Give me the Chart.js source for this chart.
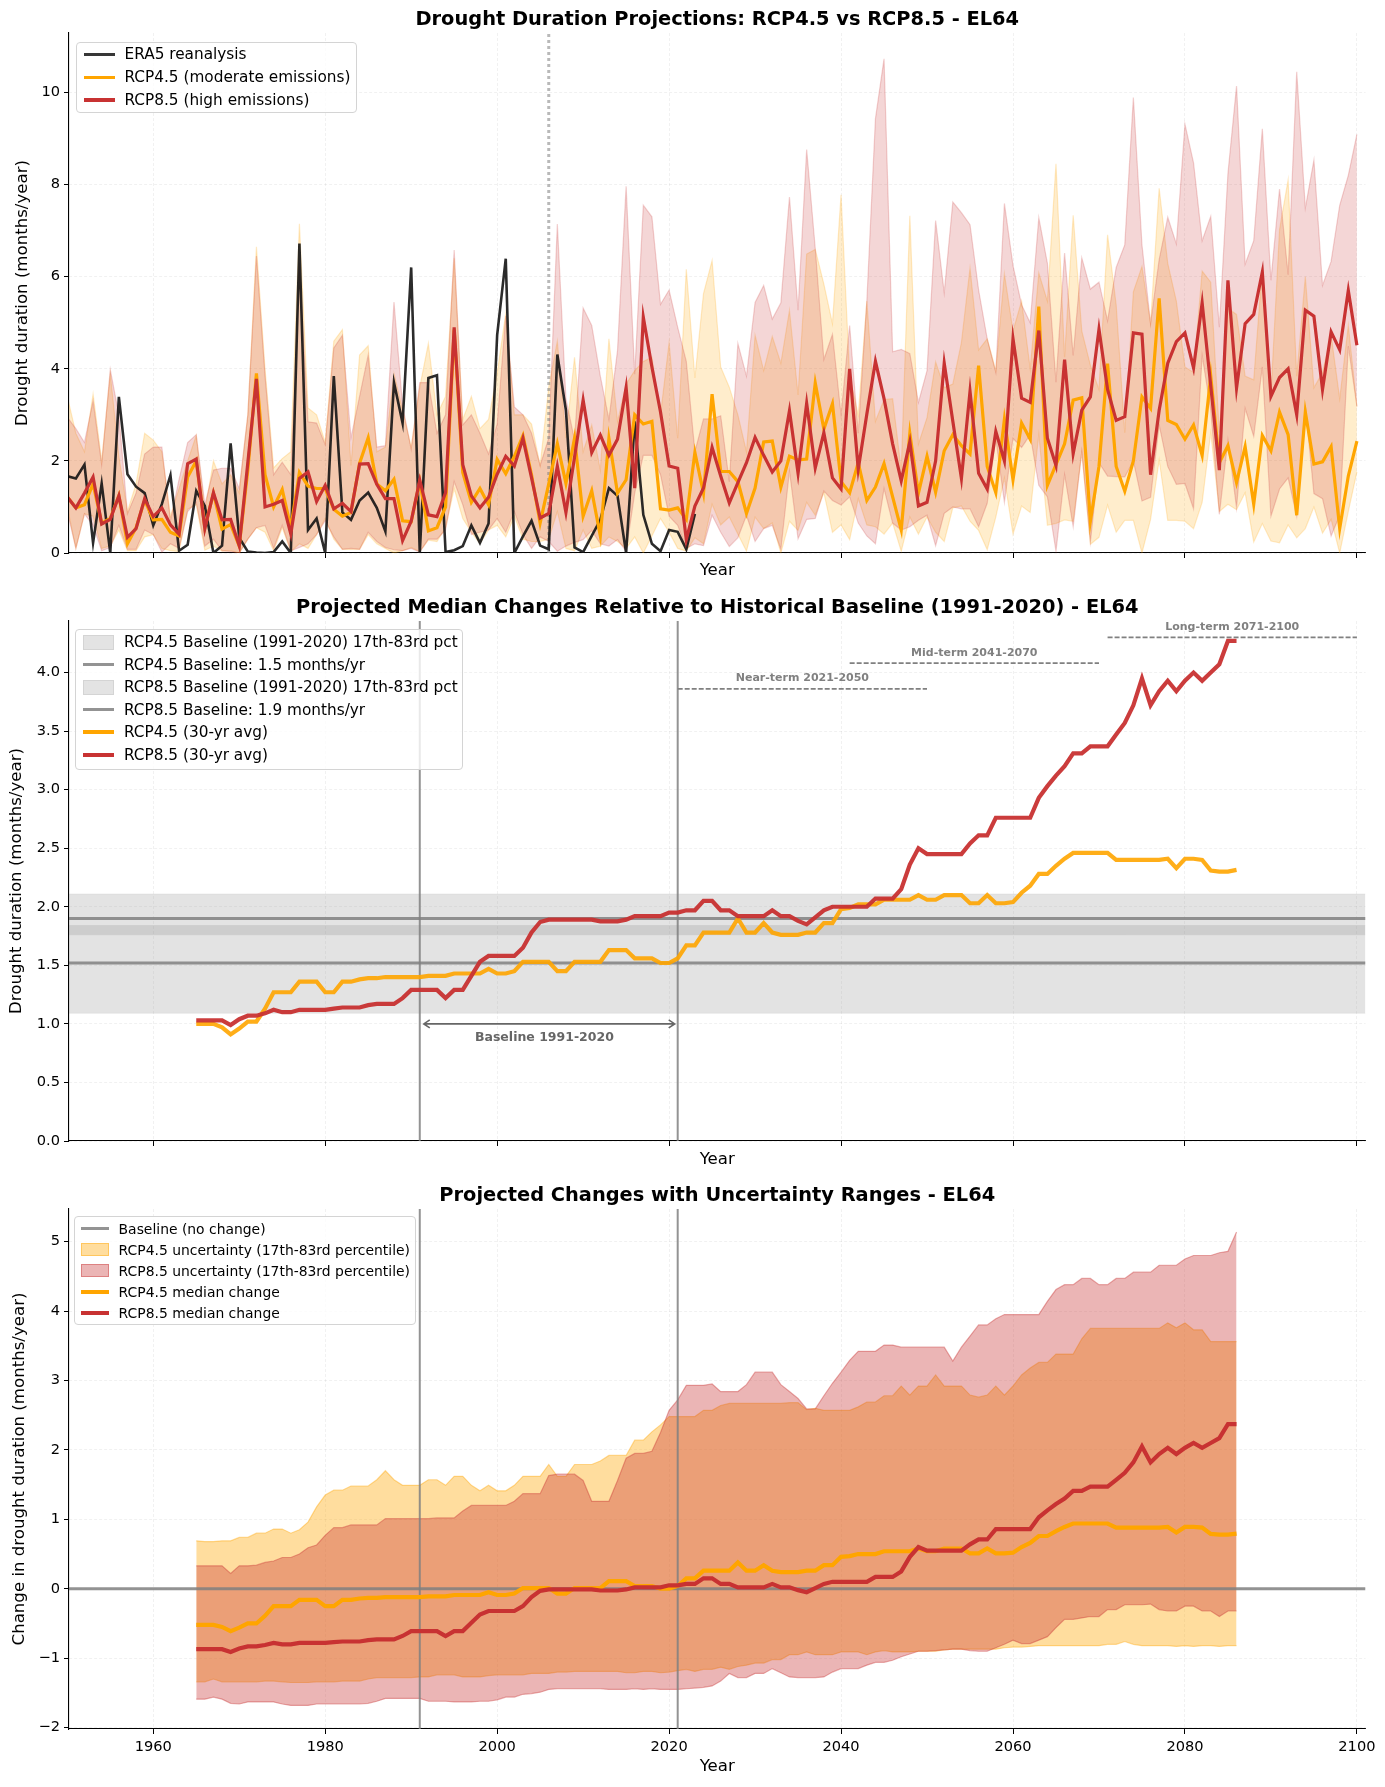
<!DOCTYPE html>
<html>
<head>
<meta charset="utf-8">
<title>Drought Duration Projections - EL64</title>
<script src="https://cdn.jsdelivr.net/npm/chart.js@4"></script>
<style>
    body { margin: 0; background: #fff; font-family: "DejaVu Sans", sans-serif; }
    #page { position: relative; width: 1385px; height: 1787px; overflow: hidden; }
    canvas { position: absolute; left: 0; }
    .legend { position: absolute; box-sizing: border-box; background: rgba(255,255,255,0.8); border: 1px solid #d4d4d4; border-radius: 4px; color: #000; }
    .legend-row { display: flex; align-items: center; white-space: nowrap; }
    .legend-swatch { flex: none; }
</style>
</head>
<body>
<div id="page">
    <canvas id="chart-annual" width="1385" height="590" style="top:0"></canvas>
    <canvas id="chart-avg" width="1385" height="590" style="top:590px"></canvas>
    <canvas id="chart-change" width="1385" height="607" style="top:1180px"></canvas>
</div>
<script>
// annual series, 1950-2100
const era5StartYear = 1950;
const era5Values = [
    1.67,1.62,1.92,.22,1.51,0,3.39,1.71,1.44,1.3,
    .6,1.06,1.69,.05,.18,1.35,1.02,0,.16,2.38,
    .33,.03,.01,0,.02,.25,0,6.72,.5,.75,
    0,3.84,.88,.72,1.14,1.31,.98,.47,3.7,2.82,
    6.2,0,3.8,3.86,.02,.06,.15,.6,.22,.64,
    4.73,6.39,0,.36,.7,.16,.08,4.31,3.1,.12,
    .02,.37,.72,1.41,1.24,0,2.86,.83,.2,.04,
    .5,.46,.08,.85
];
const annualStartYear = 1950;
const rcp45Median = [
    1.22,.98,1.05,1.5,.65,.75,1.25,.2,.55,1.15,
    .72,.73,.45,.37,1.65,2.0,.55,1.3,.52,.62,
    .15,1.8,3.9,1.7,1.0,1.38,.55,1.75,1.45,1.4,
    1.4,.95,.8,.88,1.95,2.5,1.5,1.35,1.6,.7,
    .68,1.55,.48,.55,1.0,4.85,1.75,1.1,1.4,1.05,
    2.03,1.72,2.1,2.55,1.7,.65,1.5,2.37,1.51,2.49,
    .8,1.35,.37,2.49,1.3,1.59,3.0,2.8,2.86,.96,
    .93,.98,.73,2.18,1.3,3.45,1.77,1.77,1.55,.86,
    1.41,2.41,2.43,1.43,2.1,2.02,2.04,3.69,2.69,3.24,
    1.55,1.31,1.96,1.14,1.43,1.94,1.22,.5,2.6,1.3,
    2.1,1.32,2.22,2.57,2.33,2.15,4.07,1.88,1.31,2.9,
    1.59,2.82,2.47,5.35,1.47,1.92,2.37,3.32,3.37,.69,
    1.88,4.11,1.88,1.34,2.0,3.39,3.14,5.53,2.88,2.79,
    2.47,2.78,2.12,3.84,1.96,2.33,1.53,2.31,1.06,2.55,
    2.22,3.06,2.57,.82,3.06,1.93,1.98,2.31,.53,1.67,
    2.43
];
const rcp45High = [
    3.4,2.6,2.2,3.45,2.0,3.9,2.1,.9,1.5,2.6,
    2.45,2.2,.8,1.4,2.0,2.55,.9,2.0,1.5,1.7,
    1.3,3.0,6.65,4.0,1.85,2.05,2.2,7.15,3.15,3.0,
    2.4,4.6,4.85,1.9,4.3,4.5,2.2,2.3,3.9,3.1,
    2.3,3.6,4.55,3.0,3.4,6.4,2.9,3.4,2.7,2.9,
    3.9,5.2,3.0,3.0,2.8,1.9,3.6,4.6,2.5,4.25,
    2.2,2.78,1.8,4.65,2.86,3.67,3.96,4.16,4.25,3.0,
    4.57,2.49,6.16,3.8,5.63,6.35,4.04,3.6,3.0,2.2,
    4.73,3.96,4.7,4.12,5.27,3.43,6.49,6.59,5.84,4.98,
    7.78,3.84,3.0,5.47,2.86,3.33,3.35,1.8,7.32,2.37,
    2.94,4.15,3.59,3.67,4.57,6.19,4.41,4.65,3.96,6.06,
    4.82,5.47,4.0,6.08,5.47,8.45,4.25,7.33,4.82,4.08,
    3.55,6.91,5.39,2.61,5.67,6.22,4.98,7.92,6.29,5.47,
    4.04,3.92,6.12,5.88,2.61,5.31,5.18,3.84,3.76,6.2,
    3.43,7.02,8.1,3.84,6.0,3.59,3.92,4.73,3.35,4.94,
    3.18
];
const rcp45Low = [
    1.0,.1,.85,.8,.1,.15,.5,.05,.05,.35,
    .4,.1,.05,.03,.95,1.05,.06,.15,.04,.05,
    0,.3,.55,.45,.05,.55,.03,.2,.1,.4,
    .75,.3,.08,.08,.08,.4,.2,.1,0,.05,
    .12,.03,.28,.25,.55,1.4,.75,.45,.2,.5,
    .6,.35,.8,.3,.25,.25,.3,.9,.1,.05,
    .5,.1,.15,.35,.25,.1,.35,0,.37,.75,
    .45,.1,.04,.33,.2,1.06,.61,.78,.41,.04,
    .78,.53,.65,0,.69,.49,1.1,.82,1.31,.45,
    .61,.29,1.18,.61,.57,.41,.65,.04,.78,.41,
    .78,.45,.25,.98,1.02,.69,.49,.07,.78,1.63,
    .41,1.02,.88,2.57,.6,.64,.72,.69,2.2,.19,
    .34,1.04,.45,.71,.71,0,.73,2.02,.71,.71,
    .69,.53,1.1,2.61,.9,1.06,.94,1.31,.24,.64,
    .26,.22,.61,.33,.53,1.0,.43,.73,0,.9,
    1.76
];
const rcp85Median = [
    1.22,.98,1.3,1.65,.63,.73,1.24,.34,.53,1.18,
    .79,.98,.61,.41,1.94,2.04,.53,1.31,.72,.73,
    .16,1.96,3.78,1.0,1.06,1.14,.41,1.62,1.76,1.12,
    1.47,.96,1.08,.9,1.93,1.94,1.49,1.18,1.18,.27,
    .69,1.58,.83,.79,1.31,4.9,1.92,1.24,.98,1.21,
    1.71,2.1,1.89,2.49,1.63,.76,.86,1.88,.88,2.08,
    3.32,2.18,2.56,2.12,2.47,3.59,1.41,5.12,4.04,3.06,
    1.89,1.84,.29,1.02,1.41,2.29,1.67,1.09,1.53,1.96,
    2.51,2.12,1.76,2.0,3.09,1.73,3.25,1.85,2.61,1.63,
    1.39,4.0,1.82,3.02,4.16,3.35,2.37,1.57,2.41,1.02,
    1.1,2.0,4.12,2.86,1.62,3.51,1.73,1.39,2.64,2.0,
    4.65,3.36,3.27,4.83,2.49,1.9,4.2,2.16,3.1,3.39,
    4.86,3.55,2.88,2.96,4.78,4.75,1.7,3.1,4.12,4.59,
    4.78,4.02,5.43,3.63,1.8,5.92,3.58,4.98,5.18,6.1,
    3.4,3.81,4.0,3.0,5.27,5.14,3.55,4.8,4.41,5.7,
    4.51
];
const rcp85High = [
    2.95,2.7,2.4,3.3,1.92,3.98,3.0,.85,1.3,2.15,
    2.3,2.3,.7,1.6,2.4,2.57,1.05,1.8,1.84,1.84,
    1.4,3.0,6.45,3.85,1.7,1.97,1.7,6.3,2.85,2.82,
    2.35,4.45,4.73,2.5,3.4,4.3,2.3,2.33,5.45,3.2,
    2.25,3.7,3.7,2.6,3.0,6.58,2.78,3.0,2.6,2.15,
    2.8,5.15,3.17,3.0,2.6,1.9,2.5,7.14,3.35,2.45,
    5.32,4.94,3.84,2.9,4.4,7.96,3.88,7.55,7.3,5.4,
    5.71,4.9,4.16,2.2,2.91,2.91,2.98,1.55,4.55,3.84,
    5.44,5.81,5.08,5.43,7.73,5.27,8.76,6.61,4.2,4.75,
    3.0,4.94,2.6,5.47,9.43,10.73,4.37,4.42,4.33,3.27,
    3.96,7.22,5.65,7.62,7.39,7.13,5.71,4.65,3.92,7.59,
    6.24,5.39,5.0,7.28,6.29,3.71,6.51,4.29,6.41,5.73,
    5.88,5.04,6.2,6.69,9.89,6.69,4.98,6.37,7.29,6.71,
    9.31,8.47,6.78,7.31,4.9,8.24,10.14,6.27,6.78,9.21,
    5.92,7.9,6.04,10.45,7.49,8.53,5.81,6.33,7.55,8.2,
    9.09
];
const rcp85Low = [
    .9,.1,.85,.6,.05,.12,.6,.08,.08,.5,
    .4,.02,.2,.1,.9,1.1,.15,.3,.05,.03,
    0,.3,.55,.6,.1,.6,.05,.12,.2,.4,
    .7,.35,.08,.1,.08,.45,.25,.12,.07,.05,
    .1,.02,.3,.3,.5,1.55,1.05,.4,.45,.5,
    .75,.45,.9,.4,.1,.35,.25,.04,.15,.23,
    .29,.49,.2,.15,.29,.04,1.3,2.12,2.12,1.7,
    .8,.6,.1,.2,.16,.82,.45,.14,.33,.82,
    .25,.53,.6,.08,1.78,.31,.73,.75,1.35,1.14,
    1.04,1.22,.65,.37,.2,1.4,.65,.5,.57,.71,
    .82,.16,.86,1.0,.96,.96,.57,1.08,2.49,1.1,
    2.49,2.29,2.57,1.47,1.22,.04,1.7,.57,2.2,.24,
    1.96,1.67,1.66,1.65,2.0,1.13,1.21,2.78,1.88,1.49,
    1.51,.96,4.29,3.1,.84,2.45,.98,3.14,2.53,4.04,
    .8,1.39,1.63,.8,3.2,1.29,1.18,.37,.82,4.49,
    3.18
];

// 30-year averages, 1965-2086
const avgStartYear = 1965;
const rcp45Avg = [
    1.0,1.0,1.0,.97,.91,
    .96,1.02,1.02,1.13,1.27,1.27,1.27,1.36,1.36,1.36,
    1.27,1.27,1.36,1.36,1.38,1.39,1.39,1.4,1.4,1.4,
    1.4,1.4,1.41,1.41,1.41,1.43,1.43,1.43,1.43,1.47,
    1.43,1.43,1.45,1.53,1.53,1.53,1.53,1.45,1.45,1.53,
    1.53,1.53,1.53,1.63,1.63,1.63,1.56,1.56,1.56,1.52,
    1.52,1.56,1.67,1.67,1.78,1.78,1.78,1.78,1.9,1.78,
    1.78,1.86,1.78,1.76,1.76,1.76,1.78,1.78,1.86,1.86,
    1.98,1.99,2.02,2.02,2.02,2.06,2.06,2.06,2.06,2.1,
    2.06,2.06,2.1,2.1,2.1,2.03,2.03,2.1,2.03,2.03,
    2.04,2.12,2.18,2.28,2.28,2.35,2.41,2.46,2.46,2.46,
    2.46,2.46,2.4,2.4,2.4,2.4,2.4,2.4,2.41,2.33,
    2.41,2.41,2.4,2.31,2.3,2.3,2.315
];
const rcp85Avg = [
    1.03,1.03,1.03,1.03,.99,
    1.04,1.07,1.07,1.09,1.12,1.1,1.1,1.12,1.12,1.12,
    1.12,1.13,1.14,1.14,1.14,1.16,1.17,1.17,1.17,1.22,
    1.29,1.29,1.29,1.29,1.22,1.29,1.29,1.41,1.53,1.58,
    1.58,1.58,1.58,1.65,1.78,1.87,1.89,1.89,1.89,1.89,
    1.89,1.89,1.875,1.875,1.875,1.89,1.92,1.92,1.92,1.92,
    1.95,1.95,1.97,1.97,2.05,2.05,1.97,1.97,1.92,1.92,
    1.92,1.92,1.97,1.92,1.92,1.88,1.85,1.91,1.97,2.0,
    2.0,2.0,2.0,2.0,2.07,2.07,2.07,2.15,2.36,2.5,
    2.45,2.45,2.45,2.45,2.45,2.54,2.61,2.61,2.76,2.76,
    2.76,2.76,2.76,2.93,3.03,3.12,3.2,3.31,3.31,3.37,
    3.37,3.37,3.47,3.57,3.72,3.95,3.72,3.84,3.93,3.84,
    3.93,4.0,3.93,4.0,4.07,4.27,4.27
];
const baselineLevels = [1.52, 1.90];
const rcp45BaselineBand = [1.09, 1.84];
const rcp85BaselineBand = [1.76, 2.11];
const baselineYears = [1991, 2021];
const periodNames = ['Near-term 2021-2050', 'Mid-term 2041-2070', 'Long-term 2071-2100'];
const periodStart = [2021, 2041, 2071];
const periodEnd = [2050, 2070, 2100];
const periodLevel = [3.86, 4.08, 4.30];

// change from baseline, 1965-2086
const rcp45Change = [
    -.52,-.52,-.52,-.55,-.61,
    -.56,-.5,-.5,-.39,-.25,-.25,-.25,-.16,-.16,-.16,
    -.25,-.25,-.16,-.16,-.14,-.13,-.13,-.12,-.12,-.12,
    -.12,-.12,-.11,-.11,-.11,-.09,-.09,-.09,-.09,-.05,
    -.09,-.09,-.07,.01,.01,.01,.01,-.07,-.07,.01,
    .01,.01,.01,.11,.11,.11,.04,.04,.04,0,
    0,.04,.15,.15,.26,.26,.26,.26,.38,.26,
    .26,.34,.26,.24,.24,.24,.26,.26,.34,.34,
    .46,.47,.5,.5,.5,.54,.54,.54,.54,.58,
    .54,.54,.58,.58,.58,.51,.51,.58,.51,.51,
    .52,.6,.66,.76,.76,.83,.89,.94,.94,.94,
    .94,.94,.88,.88,.88,.88,.88,.88,.89,.81,
    .89,.89,.88,.79,.78,.78,.795
];
const rcp85Change = [
    -.87,-.87,-.87,-.87,-.91,
    -.86,-.83,-.83,-.81,-.78,-.8,-.8,-.78,-.78,-.78,
    -.78,-.77,-.76,-.76,-.76,-.74,-.73,-.73,-.73,-.68,
    -.61,-.61,-.61,-.61,-.68,-.61,-.61,-.49,-.37,-.32,
    -.32,-.32,-.32,-.25,-.12,-.03,-.01,-.01,-.01,-.01,
    -.01,-.01,-.025,-.025,-.025,-.01,.02,.02,.02,.02,
    .05,.05,.07,.07,.15,.15,.07,.07,.02,.02,
    .02,.02,.07,.02,.02,-.02,-.05,.01,.07,.1,
    .1,.1,.1,.1,.17,.17,.17,.25,.46,.6,
    .55,.55,.55,.55,.55,.64,.71,.71,.86,.86,
    .86,.86,.86,1.03,1.13,1.22,1.3,1.41,1.41,1.47,
    1.47,1.47,1.57,1.67,1.82,2.05,1.82,1.94,2.03,1.94,
    2.03,2.1,2.03,2.1,2.17,2.37,2.37
];
const rcp45ChangeHigh = [
    .69,.68,.68,.69,.69,
    .74,.74,.8,.8,.86,.86,.8,.85,.96,1.18,
    1.35,1.42,1.42,1.48,1.48,1.48,1.57,1.7,1.57,1.49,
    1.49,1.49,1.57,1.57,1.49,1.62,1.62,1.49,1.41,1.49,
    1.41,1.41,1.49,1.62,1.62,1.62,1.79,1.62,1.62,1.79,
    1.79,1.79,1.84,1.92,1.92,1.92,2.14,2.14,2.26,2.36,
    2.48,2.48,2.48,2.48,2.57,2.57,2.64,2.67,2.67,2.67,
    2.67,2.67,2.67,2.67,2.68,2.68,2.58,2.6,2.57,2.57,
    2.57,2.57,2.62,2.69,2.69,2.78,2.78,2.92,2.79,2.92,
    2.92,3.08,2.92,2.92,2.92,2.79,2.76,2.79,2.92,2.79,
    2.92,3.08,3.18,3.26,3.26,3.38,3.38,3.38,3.6,3.75,
    3.75,3.75,3.75,3.75,3.75,3.75,3.75,3.75,3.83,3.76,
    3.83,3.73,3.73,3.56,3.56,3.56,3.56
];
const rcp45ChangeLow = [
    -1.34,-1.34,-1.3,-1.34,-1.34,
    -1.34,-1.34,-1.34,-1.33,-1.33,-1.34,-1.35,-1.35,-1.35,-1.34,
    -1.34,-1.34,-1.33,-1.33,-1.33,-1.3,-1.28,-1.28,-1.28,-1.28,
    -1.28,-1.27,-1.27,-1.24,-1.24,-1.24,-1.27,-1.27,-1.27,-1.25,
    -1.24,-1.24,-1.24,-1.24,-1.22,-1.22,-1.22,-1.2,-1.2,-1.19,
    -1.19,-1.19,-1.19,-1.19,-1.19,-1.21,-1.21,-1.19,-1.19,-1.21,
    -1.2,-1.18,-1.16,-1.19,-1.16,-1.16,-1.13,-1.16,-1.12,-1.1,
    -1.07,-1.07,-1.02,-1.02,-.95,-.95,-.91,-.95,-.95,-.95,
    -.91,-.91,-.91,-.95,-.91,-.89,-.91,-.91,-.91,-.9,
    -.9,-.9,-.88,-.87,-.87,-.87,-.87,-.87,-.87,-.85,
    -.84,-.84,-.83,-.82,-.82,-.82,-.82,-.82,-.82,-.82,
    -.82,-.8,-.8,-.76,-.8,-.82,-.82,-.82,-.82,-.83,
    -.82,-.83,-.82,-.82,-.83,-.82,-.82
];
const rcp85ChangeHigh = [
    .33,.33,.33,.33,.22,
    .33,.33,.34,.38,.4,.45,.45,.5,.59,.63,
    .77,.88,.88,.92,.92,.92,.92,1.01,1.01,1.01,
    1.01,1.01,1.01,1.02,1.02,1.02,1.12,1.2,1.2,1.2,
    1.2,1.2,1.26,1.37,1.37,1.37,1.63,1.65,1.65,1.65,
    1.56,1.26,1.26,1.26,1.56,1.88,1.95,1.95,1.98,2.25,
    2.57,2.72,2.93,2.93,2.93,2.95,2.84,2.84,2.84,2.94,
    3.12,3.12,3.12,2.94,2.84,2.74,2.59,2.59,2.78,2.96,
    3.12,3.29,3.42,3.42,3.42,3.51,3.51,3.48,3.48,3.48,
    3.48,3.48,3.48,3.28,3.48,3.64,3.8,3.8,3.89,3.95,
    3.95,3.95,3.95,3.95,4.14,4.31,4.38,4.38,4.47,4.47,
    4.38,4.38,4.47,4.47,4.56,4.56,4.56,4.66,4.66,4.66,
    4.75,4.8,4.8,4.8,4.84,4.86,5.14
];
const rcp85ChangeLow = [
    -1.59,-1.59,-1.56,-1.59,-1.65,
    -1.66,-1.63,-1.63,-1.63,-1.63,-1.66,-1.68,-1.68,-1.68,-1.66,
    -1.66,-1.66,-1.66,-1.66,-1.66,-1.65,-1.62,-1.58,-1.58,-1.58,
    -1.58,-1.58,-1.62,-1.62,-1.62,-1.63,-1.63,-1.63,-1.62,-1.62,
    -1.6,-1.56,-1.56,-1.52,-1.51,-1.49,-1.45,-1.44,-1.44,-1.44,
    -1.44,-1.44,-1.44,-1.45,-1.45,-1.45,-1.44,-1.45,-1.44,-1.45,
    -1.45,-1.45,-1.44,-1.43,-1.42,-1.4,-1.33,-1.22,-1.28,-1.28,
    -1.22,-1.22,-1.15,-1.21,-1.27,-1.28,-1.28,-1.28,-1.27,-1.2,
    -1.15,-1.15,-1.15,-1.1,-1.06,-1.06,-1.03,-.98,-.94,-.9,
    -.9,-.89,-.88,-.87,-.87,-.89,-.9,-.9,-.85,-.8,
    -.74,-.79,-.79,-.74,-.69,-.56,-.44,-.44,-.42,-.4,
    -.4,-.3,-.3,-.23,-.23,-.23,-.22,-.3,-.32,-.32,
    -.25,-.25,-.32,-.32,-.4,-.32,-.32
];

const xTicks = [1960, 1980, 2000, 2020, 2040, 2060, 2080, 2100];
const annualYTicks = [0, 2, 4, 6, 8, 10];
const avgYTicks = [0, 0.5, 1, 1.5, 2, 2.5, 3, 3.5, 4];
const changeYTicks = [-2, -1, 0, 1, 2, 3, 4, 5];

const X_MIN = 1950.2;
const X_MAX = 2101;
const ORANGE = '#ffa500';
const RED = '#c83232';
const GRAY = 'rgba(128,128,128,0.85)';
const FONT = '"DejaVu Sans", sans-serif';

function points(startYear, values) {
    return values.map((y, i) => ({ x: startYear + i, y: y }));
}

function line(data, color, width, extra) {
    return Object.assign({
        data: data, borderColor: color, borderWidth: width, fill: false,
        pointRadius: 0, tension: 0, borderJoinStyle: 'miter'
    }, extra || {});
}

// lower edge then upper edge, upper fills down to the previous dataset
function band(startYear, low, high, fillColor, edgeColor) {
    return [
        line(points(startYear, low), edgeColor, 1.2),
        line(points(startYear, high), edgeColor, 1.2, { fill: '-1', backgroundColor: fillColor })
    ];
}

function hline(level, color, width, extra) {
    return line([{ x: 1950, y: level }, { x: X_MAX, y: level }], color, width, extra);
}

function vline(year, yMin, yMax, color, width, extra) {
    return line([{ x: year, y: yMin }, { x: year, y: yMax }], color, width, extra);
}

function makePanel(id, cfg) {
    // last dataset in the list is painted on top
    cfg.datasets.forEach((d, i) => { d.order = -i; });
    const titleFontSize = 19.4;
    const titleHeight = titleFontSize * 1.2;
    return new Chart(document.getElementById(id), {
        type: 'line',
        data: { datasets: cfg.datasets },
        plugins: cfg.plugins || [],
        options: {
            responsive: false,
            animation: false,
            layout: { padding: { left: 0, right: 19.5, top: 0, bottom: 0 } },
            plugins: {
                legend: { display: false },
                tooltip: { enabled: false },
                title: {
                    display: true, text: cfg.title, color: '#000', fullSize: false,
                    font: { family: FONT, size: titleFontSize, weight: 'bold', lineHeight: 1.2 },
                    padding: { top: cfg.titleTop, bottom: cfg.areaTop - cfg.titleTop - titleHeight }
                }
            },
            scales: {
                x: {
                    type: 'linear', min: X_MIN, max: X_MAX,
                    afterBuildTicks: s => { s.ticks = xTicks.map(v => ({ value: v })); },
                    afterFit: s => { s.height = cfg.axisHeight; },
                    grid: { color: 'rgba(0,0,0,0.07)', lineWidth: 0.8, tickColor: '#000', tickLength: 5, tickWidth: 1 },
                    border: { display: true, color: '#000', width: 1.1, dash: [3, 2] },
                    ticks: { display: cfg.showXLabels, color: '#000', maxRotation: 0, padding: 4, font: { family: FONT, size: 14.6 }, callback: v => String(v) },
                    title: { display: true, text: 'Year', color: '#000', padding: { top: 0, bottom: cfg.yearPad }, font: { family: FONT, size: 16.6, lineHeight: 1.2 } }
                },
                y: {
                    type: 'linear', min: cfg.yMin, max: cfg.yMax,
                    afterBuildTicks: s => { s.ticks = cfg.yTicks.map(v => ({ value: v })); },
                    afterFit: s => { s.width = 69; },
                    grid: { color: 'rgba(0,0,0,0.07)', lineWidth: 0.8, tickColor: '#000', tickLength: 5, tickWidth: 1 },
                    border: { display: true, color: '#000', width: 1.1, dash: [3, 2] },
                    ticks: {
                        color: '#000', padding: 4, font: { family: FONT, size: 14.6 },
                        callback: cfg.yFormat
                    },
                    title: { display: true, text: cfg.yTitle, color: '#000', padding: { top: cfg.yTitlePad, bottom: 0 }, font: { family: FONT, size: 16.6, lineHeight: 1.2 } }
                }
            }
        }
    });
}

// period markers and baseline arrow on the middle panel
const avgAnnotations = {
    id: 'avgAnnotations',
    afterDatasetsDraw(chart) {
        const { ctx, scales: { x, y } } = chart;
        ctx.save();
        ctx.textAlign = 'center';
        ctx.textBaseline = 'bottom';
        ctx.font = 'bold 11px ' + FONT;
        ctx.fillStyle = '#808080';
        periodNames.forEach((name, i) => {
            ctx.fillText(name, x.getPixelForValue((periodStart[i] + periodEnd[i]) / 2), y.getPixelForValue(periodLevel[i]) - 5);
        });
        const x0 = x.getPixelForValue(baselineYears[0]) + 4;
        const x1 = x.getPixelForValue(baselineYears[1]) - 3;
        const yy = y.getPixelForValue(1.0);
        ctx.strokeStyle = '#666';
        ctx.lineWidth = 1.6;
        ctx.beginPath();
        ctx.moveTo(x0, yy);
        ctx.lineTo(x1, yy);
        ctx.moveTo(x0 + 6, yy - 4);
        ctx.lineTo(x0, yy);
        ctx.lineTo(x0 + 6, yy + 4);
        ctx.moveTo(x1 - 6, yy - 4);
        ctx.lineTo(x1, yy);
        ctx.lineTo(x1 - 6, yy + 4);
        ctx.stroke();
        ctx.fillStyle = '#666';
        ctx.font = 'bold 12.5px ' + FONT;
        ctx.textBaseline = 'middle';
        ctx.fillText('Baseline 1991-2020', x.getPixelForValue(2005.5), y.getPixelForValue(0.88));
        ctx.restore();
    }
};

// top panel
makePanel('chart-annual', {
    title: 'Drought Duration Projections: RCP4.5 vs RCP8.5 - EL64',
    areaTop: 33, titleTop: 8.6, axisHeight: 37, yearPad: 9, showXLabels: false,
    yMin: 0, yMax: 11.29, yTicks: annualYTicks, yTitlePad: 12.8,
    yTitle: 'Drought duration (months/year)',
    yFormat: v => String(v),
    datasets: [
        ...band(annualStartYear, rcp45Low, rcp45High, 'rgba(255,165,0,0.2)', 'rgba(255,165,0,0.22)'),
        ...band(annualStartYear, rcp85Low, rcp85High, 'rgba(200,50,50,0.2)', 'rgba(200,50,50,0.22)'),
        vline(2006, 0, 11.29, 'rgba(128,128,128,0.55)', 3, { borderDash: [3, 3] }),
        line(points(era5StartYear, era5Values), 'rgba(20,20,20,0.9)', 2.6),
        line(points(annualStartYear, rcp45Median), ORANGE, 3.2),
        line(points(annualStartYear, rcp85Median), RED, 3.2)
    ]
});

// middle panel
makePanel('chart-avg', {
    title: 'Projected Median Changes Relative to Historical Baseline (1991-2020) - EL64',
    areaTop: 31, titleTop: 6, axisHeight: 39, yearPad: 10.6, showXLabels: false,
    yMin: 0, yMax: 4.44, yTicks: avgYTicks, yTitlePad: 7,
    yTitle: 'Drought duration (months/year)',
    yFormat: v => v.toFixed(1),
    plugins: [avgAnnotations],
    datasets: [
        hline(rcp45BaselineBand[0], 'rgba(128,128,128,0.1)', 1),
        hline(rcp45BaselineBand[1], 'rgba(128,128,128,0.1)', 1, { fill: '-1', backgroundColor: 'rgba(128,128,128,0.22)' }),
        hline(rcp85BaselineBand[0], 'rgba(128,128,128,0.1)', 1),
        hline(rcp85BaselineBand[1], 'rgba(128,128,128,0.1)', 1, { fill: '-1', backgroundColor: 'rgba(128,128,128,0.22)' }),
        hline(baselineLevels[0], GRAY, 2.8),
        hline(baselineLevels[1], GRAY, 2.8),
        vline(baselineYears[0], 0, 4.44, GRAY, 2),
        vline(baselineYears[1], 0, 4.44, GRAY, 2),
        ...periodNames.map((n, i) => line([{ x: periodStart[i], y: periodLevel[i] }, { x: periodEnd[i], y: periodLevel[i] }], '#808080', 1.8, { borderDash: [5, 2] })),
        line(points(avgStartYear, rcp45Avg), 'rgba(255,165,0,0.9)', 4.2),
        line(points(avgStartYear, rcp85Avg), 'rgba(200,50,50,0.95)', 4.2)
    ]
});

// bottom panel
makePanel('chart-change', {
    title: 'Projected Changes with Uncertainty Ranges - EL64',
    areaTop: 29, titleTop: 4.2, axisHeight: 58, yearPad: 10, showXLabels: true,
    yMin: -2.02, yMax: 5.47, yTicks: changeYTicks, yTitlePad: 9.4,
    yTitle: 'Change in drought duration (months/year)',
    yFormat: v => String(v).replace('-', '\u2212'),
    datasets: [
        ...band(avgStartYear, rcp45ChangeLow, rcp45ChangeHigh, 'rgba(255,165,0,0.38)', 'rgba(255,165,0,0.4)'),
        ...band(avgStartYear, rcp85ChangeLow, rcp85ChangeHigh, 'rgba(200,50,50,0.36)', 'rgba(200,50,50,0.4)'),
        hline(0, GRAY, 2.8),
        vline(baselineYears[0], -2.02, 5.47, GRAY, 2),
        vline(baselineYears[1], -2.02, 5.47, GRAY, 2),
        line(points(avgStartYear, rcp45Change), ORANGE, 4.2),
        line(points(avgStartYear, rcp85Change), RED, 4.2)
    ]
});

// legends sit inside the axes like the original, built as plain elements
function addLegend(box, rows) {
    const el = document.createElement('div');
    el.className = 'legend';
    el.style.cssText = `left:${box.left}px;top:${box.top}px;width:${box.width}px;height:${box.height}px;padding:${box.padTop}px 0 0 ${box.padLeft}px;font-size:${box.fontSize}px`;
    rows.forEach(row => {
        const r = document.createElement('div');
        r.className = 'legend-row';
        r.style.height = box.rowHeight + 'px';
        const s = document.createElement('span');
        s.className = 'legend-swatch';
        s.style.width = box.swatch + 'px';
        s.style.marginRight = box.gap + 'px';
        if (row.fill) {
            s.style.height = Math.round(box.fontSize * 0.95) + 'px';
            s.style.background = row.fill;
            s.style.border = '1px solid ' + row.color;
            s.style.boxSizing = 'border-box';
        } else {
            s.style.height = row.width + 'px';
            s.style.background = row.color;
        }
        r.appendChild(s);
        r.appendChild(document.createTextNode(row.label));
        el.appendChild(r);
    });
    document.getElementById('page').appendChild(el);
}

addLegend({ left: 75.5, top: 42, width: 281, height: 71, rowHeight: 22.8, fontSize: 15.3, padTop: 0, padLeft: 7, swatch: 31, gap: 10 }, [
    { label: 'ERA5 reanalysis', color: 'rgba(20,20,20,0.85)', width: 2.6 },
    { label: 'RCP4.5 (moderate emissions)', color: ORANGE, width: 3.2 },
    { label: 'RCP8.5 (high emissions)', color: RED, width: 3.2 }
]);
addLegend({ left: 75, top: 629, width: 388, height: 140.5, rowHeight: 22.5, fontSize: 15.3, padTop: 1, padLeft: 7, swatch: 31, gap: 10 }, [
    { label: 'RCP4.5 Baseline (1991-2020) 17th-83rd pct', fill: 'rgba(128,128,128,0.22)', color: 'rgba(128,128,128,0.15)' },
    { label: 'RCP4.5 Baseline: 1.5 months/yr', color: GRAY, width: 2.8 },
    { label: 'RCP8.5 Baseline (1991-2020) 17th-83rd pct', fill: 'rgba(128,128,128,0.22)', color: 'rgba(128,128,128,0.15)' },
    { label: 'RCP8.5 Baseline: 1.9 months/yr', color: GRAY, width: 2.8 },
    { label: 'RCP4.5 (30-yr avg)', color: ORANGE, width: 4.2 },
    { label: 'RCP8.5 (30-yr avg)', color: RED, width: 4.2 }
]);
addLegend({ left: 74, top: 1215.7, width: 342, height: 109, rowHeight: 21, fontSize: 13.9, padTop: 1.5, padLeft: 6, swatch: 28, gap: 9.6 }, [
    { label: 'Baseline (no change)', color: GRAY, width: 2.8 },
    { label: 'RCP4.5 uncertainty (17th-83rd percentile)', fill: 'rgba(255,165,0,0.38)', color: 'rgba(255,165,0,0.4)' },
    { label: 'RCP8.5 uncertainty (17th-83rd percentile)', fill: 'rgba(200,50,50,0.36)', color: 'rgba(200,50,50,0.4)' },
    { label: 'RCP4.5 median change', color: ORANGE, width: 4.2 },
    { label: 'RCP8.5 median change', color: RED, width: 4.2 }
]);
</script>
</body>
</html>
